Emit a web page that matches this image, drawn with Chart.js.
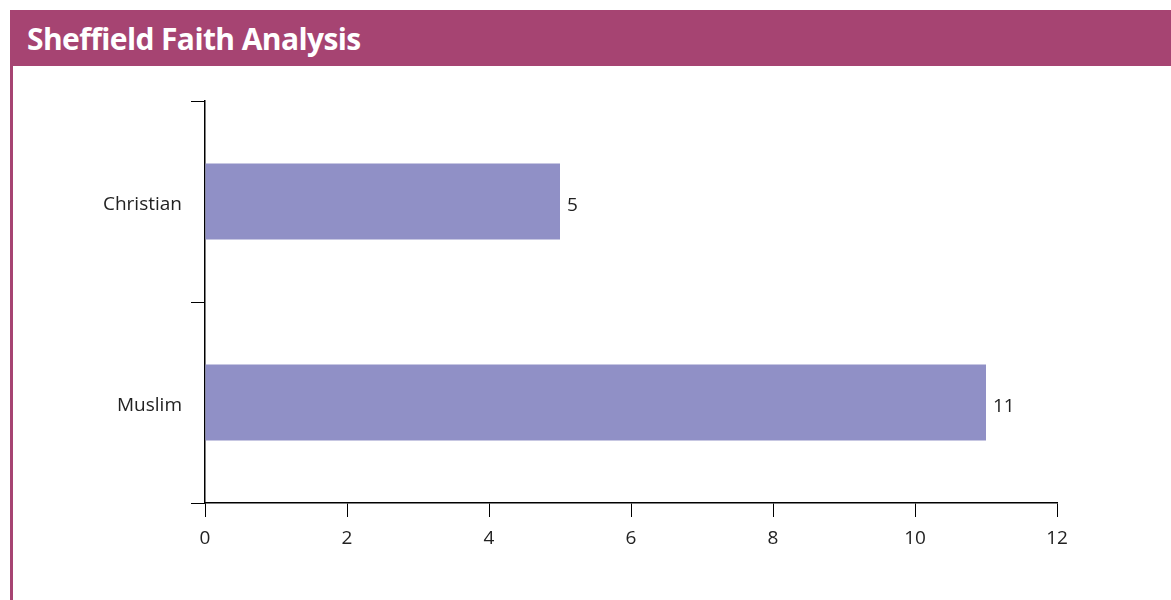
<!DOCTYPE html>
<html>
<head>
<meta charset="utf-8">
<script src="https://cdn.jsdelivr.net/npm/chart.js@4/dist/chart.umd.min.js"></script>
<style>
  html, body { margin: 0; padding: 0; background: #fff; width: 1171px; height: 600px; overflow: hidden; }
  #header {
    position: absolute; left: 10px; top: 10px; width: 1161px; height: 56px;
    background: #a64472; color: #fff;
    font-family: "Open Sans", "Noto Sans", sans-serif; font-weight: 700; font-size: 30px;
    line-height: 58px; box-sizing: border-box; padding-left: 17px; letter-spacing: -0.6px;
  }
  #side { position: absolute; left: 10px; top: 66px; width: 3px; height: 534px; background: #a64472; }
  #wrap { position: absolute; left: 13px; top: 66px; width: 1158px; height: 534px; }
</style>
</head>
<body>
<div id="header">Sheffield Faith Analysis</div>
<div id="side"></div>
<div id="wrap"><canvas id="c"></canvas></div>
<script>
const categories = ["Christian", "Muslim"];
const counts = [5, 11];
const xTicks = [0, 2, 4, 6, 8, 10, 12];

const FONT = "'Open Sans', 'Noto Sans', sans-serif";
const INK = "#222";

// Writes each bar's value just past its end
const valueLabels = {
  id: "valueLabels",
  afterDatasetsDraw(chart) {
    const ctx = chart.ctx;
    const meta = chart.getDatasetMeta(0);
    ctx.save();
    ctx.font = "19px " + FONT;
    ctx.fillStyle = INK;
    ctx.textAlign = "left";
    ctx.textBaseline = "middle";
    meta.data.forEach((bar, i) => {
      ctx.fillText(String(counts[i]), bar.x + 7, bar.y + 4);
    });
    ctx.restore();
  }
};

new Chart(document.getElementById("c"), {
  type: "bar",
  data: {
    labels: categories,
    datasets: [{
      data: counts,
      backgroundColor: "#9090c6",
      borderWidth: 0,
      categoryPercentage: 0.378,
      barPercentage: 1.0
    }]
  },
  plugins: [valueLabels],
  options: {
    indexAxis: "y",
    responsive: true,
    maintainAspectRatio: false,
    animation: false,
    layout: { padding: { top: 35, right: 114, bottom: 0, left: 0 } },
    plugins: { legend: { display: false }, tooltip: { enabled: false } },
    scales: {
      x: {
        min: 0, max: 12,
        afterBuildTicks(scale) { scale.ticks = xTicks.map(v => ({ value: v })); },
        afterFit(scale) { scale.height = 97; },
        grid: { drawOnChartArea: false, drawTicks: true, tickLength: 14, color: "#000", lineWidth: 1 },
        border: { color: "#000", width: 1.5 },
        ticks: { color: INK, font: { family: FONT, size: 19 }, padding: 10, maxRotation: 0 }
      },
      y: {
        afterFit(scale) { scale.width = 192; },
        offset: true,
        grid: { offset: true, drawOnChartArea: false, drawTicks: true, tickLength: 14, color: "#000", lineWidth: 1 },
        border: { color: "#000", width: 1.5 },
        ticks: { color: INK, font: { family: FONT, size: 19 }, padding: 9, labelOffset: 3 }
      }
    }
  }
});
</script>
</body>
</html>
